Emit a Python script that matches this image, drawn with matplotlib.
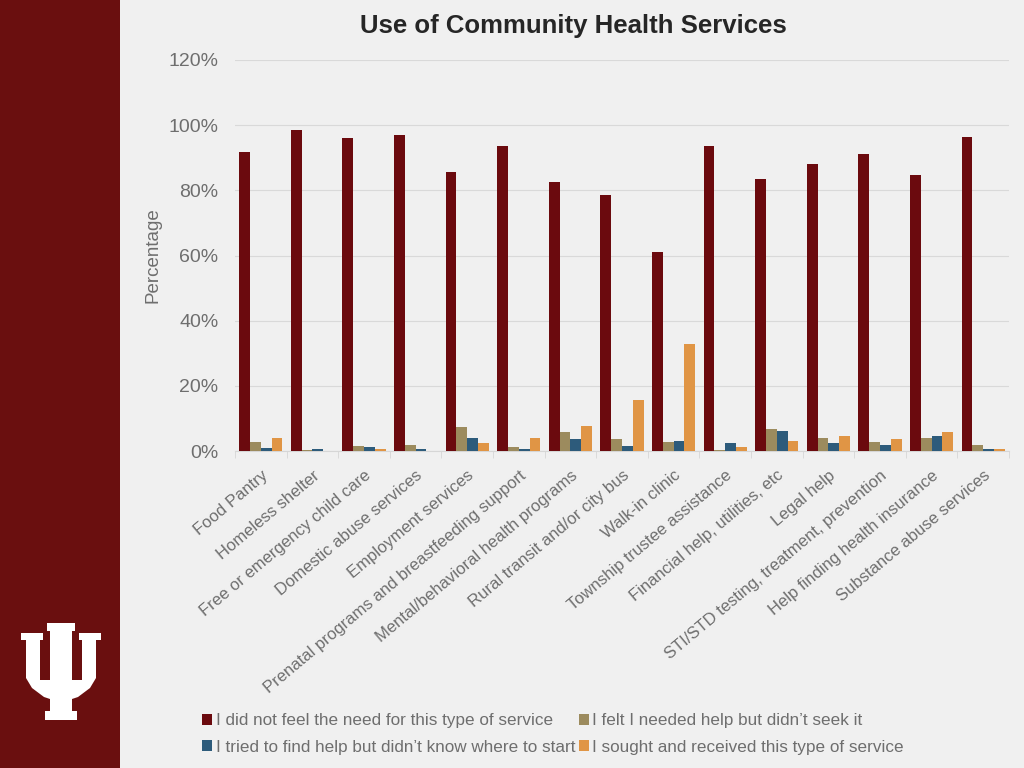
import matplotlib
matplotlib.use("Agg")
import matplotlib.pyplot as plt
import numpy as np
from matplotlib.patches import Rectangle, Polygon

plt.rcParams['font.family'] = ['Liberation Sans', 'DejaVu Sans']

categories = ["Food Pantry", "Homeless shelter", "Free or emergency child care",
              "Domestic abuse services", "Employment services",
              "Prenatal programs and breastfeeding support",
              "Mental/behavioral health programs", "Rural transit and/or city bus",
              "Walk-in clinic", "Township trustee assistance",
              "Financial help, utilities, etc", "Legal help",
              "STI/STD testing, treatment, prevention",
              "Help finding health insurance", "Substance abuse services"]

no_need = [91.7, 98.5, 96.0, 97.0, 85.6, 93.6, 82.5, 78.5, 61.0, 93.6, 83.4, 88.0, 91.0, 84.7, 96.3]
needed_not_sought = [2.9, 0.3, 1.6, 1.9, 7.5, 1.3, 5.8, 3.7, 2.7, 0.3, 6.7, 4.1, 2.8, 4.1, 1.7]
didnt_know = [0.8, 0.6, 1.1, 0.6, 3.9, 0.6, 3.6, 1.4, 3.0, 2.5, 6.1, 2.5, 1.9, 4.6, 0.6]
received = [3.9, 0.0, 0.6, 0.0, 2.5, 3.9, 7.7, 15.6, 32.8, 1.3, 3.1, 4.7, 3.6, 5.9, 0.6]

series_names = ["I did not feel the need for this type of service",
                "I felt I needed help but didn\u2019t seek it",
                "I tried to find help but didn\u2019t know where to start",
                "I sought and received this type of service"]
series_values = [no_need, needed_not_sought, didnt_know, received]
colors = ["#6B0A0E", "#9C8B5E", "#2D5B7B", "#E09545"]

yticks = [0, 20, 40, 60, 80, 100, 120]
ytick_labels = ["0%", "20%", "40%", "60%", "80%", "100%", "120%"]

bg = "#F0F0F0"
txt = "#6E6E6E"

fig = plt.figure(figsize=(10.24, 7.68), dpi=100, facecolor=bg)

# Sidebar
fig.patches.append(Rectangle((0, 0), 120 / 1024, 1, transform=fig.transFigure,
                             facecolor="#6A0F0F", edgecolor="none", zorder=0))

# IU logo (pixel coordinates, mirrored around center)
cx = 61
right_half = [(61, 623), (75, 623), (75, 631), (72, 631), (72, 680), (82, 680),
              (82, 640), (79, 640), (79, 633), (101, 633), (101, 640), (96, 640),
              (96, 678), (90, 688), (78, 697), (72, 699), (72, 711), (77, 711),
              (77, 720), (61, 720)]
left_half = [(2 * cx - x, y) for (x, y) in reversed(right_half)]
pts = right_half + left_half
pts_fig = [(x / 1024, 1 - y / 768) for (x, y) in pts]
fig.patches.append(Polygon(pts_fig, closed=True, transform=fig.transFigure,
                           facecolor="white", edgecolor="none", zorder=1))

ax = fig.add_axes([235 / 1024, 1 - 451 / 768, (1009 - 235) / 1024, (451 - 60) / 768])
ax.set_facecolor(bg)

x = np.arange(len(categories))
w = 0.21
handles = []
for i, (vals, c, name) in enumerate(zip(series_values, colors, series_names)):
    b = ax.bar(x + (i - 1.5) * w, vals, width=w, color=c, label=name, zorder=3)
    handles.append(b)

ax.set_ylim(0, 120)
ax.set_xlim(-0.5, len(categories) - 0.5)
ax.set_yticks(yticks)
ax.set_yticklabels(ytick_labels, fontsize=14, color=txt)
ax.yaxis.grid(True, color="#D9D9D9", linewidth=0.8, zorder=0)
ax.set_axisbelow(True)
for s in ["top", "right", "left"]:
    ax.spines[s].set_visible(False)
ax.spines["bottom"].set_color("#D6D6D6")
ax.tick_params(axis="y", length=0, pad=12)

ax.set_xticks(x)
ax.set_xticklabels(categories, rotation=40, ha="right", rotation_mode="anchor",
                   fontsize=12, color=txt)
ax.set_xticks(np.arange(-0.5, len(categories)), minor=True)
ax.tick_params(axis="x", which="major", length=0, pad=12)
ax.tick_params(axis="x", which="minor", length=5, color="#D6D6D6")

ax.set_ylabel("Percentage", fontsize=13.5, color=txt, labelpad=5)

fig.text(573 / 1024, 1 - 26 / 768, "Use of Community Health Services",
         ha="center", va="center", fontsize=18.5, fontweight="bold", color="#262626")

order = [0, 2, 1, 3]
fig.legend([handles[i] for i in order], [series_names[i] for i in order],
           loc="center", bbox_to_anchor=(553 / 1024, 1 - 734 / 768), ncol=2,
           frameon=False, fontsize=12.3, handlelength=0.6, handleheight=0.6,
           handletextpad=0.2, columnspacing=0.2, labelspacing=0.65,
           labelcolor=txt)

fig.savefig("out.png", dpi=100, facecolor=bg)
